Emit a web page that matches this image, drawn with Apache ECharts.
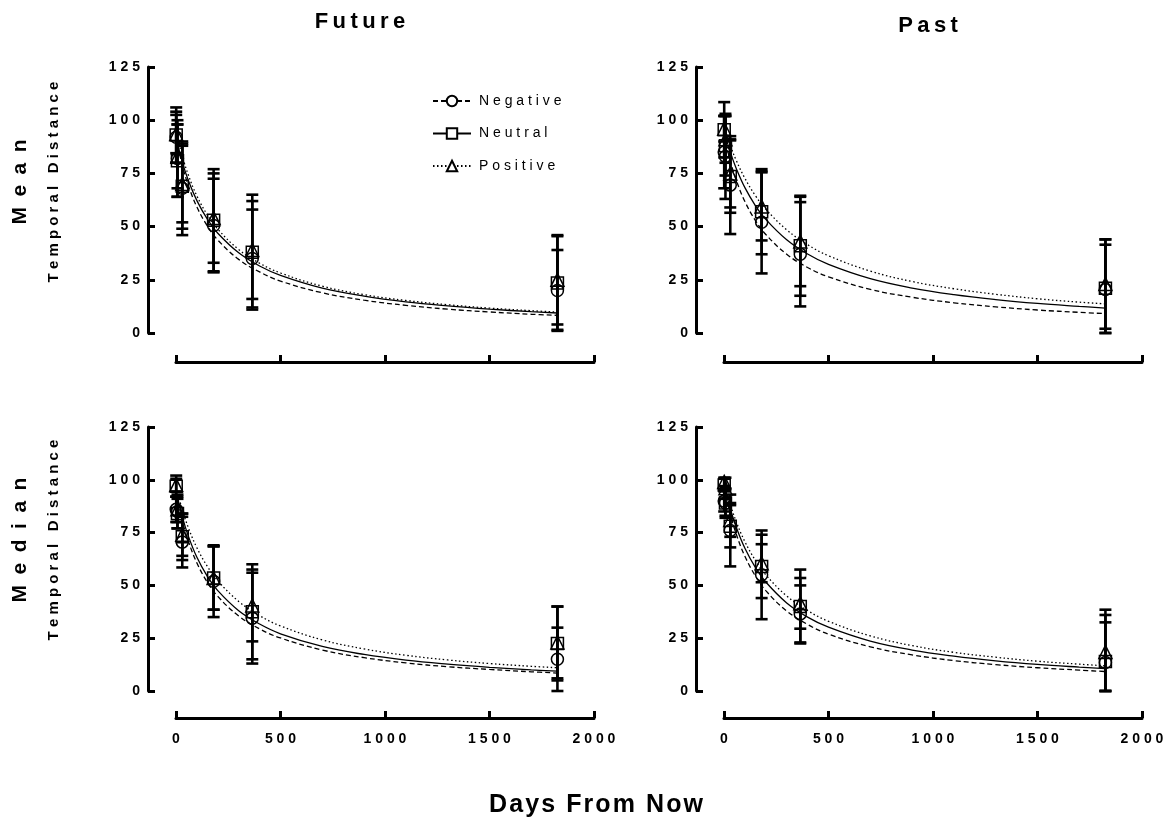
<!DOCTYPE html>
<html><head><meta charset="utf-8">
<script src="https://cdn.jsdelivr.net/npm/echarts@6/dist/echarts.min.js"></script>
<style>html,body{margin:0;padding:0;background:#fff}#c{width:1170px;height:824px}</style>
</head><body><div id="c"></div>
<script>
// ---------- data ----------
const days = [1, 7, 30, 180, 365, 1825];
const curveDays = [1, 30, 60, 100, 150, 200, 300, 400, 500, 700, 900, 1100, 1300, 1500, 1700, 1825];
const groups = ['Negative', 'Neutral', 'Positive'];
const colTitles = ['Future', 'Past'];
const rowTitles = ['Mean', 'Median'];
const yLabel = 'Temporal Distance';
const xLabel = 'Days From Now';
const xTicks = [0, 500, 1000, 1500, 2000];
const yTicks = [0, 25, 50, 75, 100, 125];

// Future / Mean
const futureMeanNeg = [92, 82, 68, 50.5, 35, 20];
const futureMeanNegSD = [12, 18, 22, 22, 23, 19];
const futureMeanNeu = [93, 81, 69, 53, 38, 23.5];
const futureMeanNeuSD = [13, 17, 20, 24, 27, 22];
const futureMeanPos = [93.5, 83, 70, 54, 39, 25];
const futureMeanPosSD = [9, 15, 18, 21, 23, 21];
const futureMeanNegFit = [91.5, 78.9, 69.1, 59.2, 50.3, 43.7, 34.6, 28.7, 24.4, 18.9, 15.4, 13.0, 11.2, 9.9, 8.8, 8.3];
const futureMeanNeuFit = [91.6, 80.4, 71.4, 62.2, 53.5, 46.9, 37.7, 31.5, 27.1, 21.1, 17.3, 14.6, 12.7, 11.2, 10.0, 9.4];
const futureMeanPosFit = [94.5, 83.2, 74.0, 64.4, 55.5, 48.8, 39.2, 32.8, 28.2, 22.0, 18.0, 15.3, 13.3, 11.7, 10.5, 9.8];

// Past / Mean
const pastMeanNeg = [85, 83, 69.5, 52, 37, 20.5];
const pastMeanNegSD = [17, 20, 23, 24, 24.5, 21];
const pastMeanNeu = [95.5, 88, 73.5, 57, 41, 21];
const pastMeanNeuSD = [13, 14, 17, 20, 23.5, 23];
const pastMeanPos = [96, 91, 75, 59.5, 43, 23];
const pastMeanPosSD = [6, 11, 16, 16, 21, 21];
const pastMeanNegFit = [92.5, 80.8, 71.4, 61.8, 52.9, 46.3, 37.0, 30.8, 26.4, 20.5, 16.8, 14.2, 12.3, 10.8, 9.7, 9.1];
const pastMeanNeuFit = [94.6, 85.0, 77.0, 68.3, 59.9, 53.4, 43.8, 37.1, 32.2, 25.5, 21.1, 18.0, 15.7, 13.9, 12.5, 11.7];
const pastMeanPosFit = [96.7, 88.2, 80.8, 72.7, 64.6, 58.2, 48.5, 41.5, 36.3, 29.1, 24.2, 20.8, 18.2, 16.1, 14.5, 13.7];

// Future / Median
const futureMedNeg = [86, 85, 70.5, 52, 34.5, 15];
const futureMedNegSD = [6, 8, 12, 17, 21.5, 15];
const futureMedNeu = [97, 84, 73, 53.5, 37.5, 22.5];
const futureMedNeuSD = [5, 7, 11, 15, 22.5, 17.5];
const futureMedPos = [97.5, 86, 74, 53.5, 40.5, 23];
const futureMedPosSD = [3, 6, 10, 15, 17, 17];
const futureMedNegFit = [93.5, 80.7, 70.7, 60.6, 51.5, 44.8, 35.5, 29.4, 25.1, 19.4, 15.8, 13.3, 11.5, 10.2, 9.1, 8.5];
const futureMedNeuFit = [94.5, 82.6, 73.1, 63.3, 54.3, 47.5, 38.0, 31.7, 27.1, 21.1, 17.3, 14.6, 12.7, 11.2, 10.0, 9.4];
const futureMedPosFit = [96.6, 85.9, 77.1, 67.8, 59.0, 52.2, 42.4, 35.7, 30.8, 24.2, 19.9, 16.9, 14.7, 13.0, 11.7, 11.0];

// Past / Median
const pastMedNeg = [90, 89, 76, 55, 36.5, 13.5];
const pastMedNegSD = [5, 6, 17, 21, 13.5, 19];
const pastMedNeu = [97.5, 89, 78, 59, 40, 14];
const pastMedNeuSD = [3, 7, 10, 15, 17.5, 22];
const pastMedPos = [99, 96, 81, 60.5, 41.5, 18.5];
const pastMedPosSD = [2, 5, 8, 9, 12, 20];
const pastMedNegFit = [96.5, 83.9, 73.9, 63.8, 54.5, 47.5, 37.9, 31.5, 26.9, 20.9, 17.1, 14.4, 12.5, 11.0, 9.9, 9.2];
const pastMedNeuFit = [97.6, 86.3, 77.2, 67.6, 58.5, 51.6, 41.7, 35.0, 30.2, 23.6, 19.4, 16.5, 14.3, 12.6, 11.3, 10.6];
const pastMedPosFit = [98.6, 88.4, 79.8, 70.7, 61.9, 55.0, 45.0, 38.1, 33.0, 26.1, 21.5, 18.3, 16.0, 14.1, 12.7, 11.9];

// ---------- layout / style ----------
const FONT = '"Liberation Sans", Arial, sans-serif';
const spaced = (s, sp) => String(s).split('').join(sp === undefined ? ' ' : sp);

const panels = [
  { left: 176, top: 67, height: 266, xOff: 29, labels: false,
    sets: [[futureMeanNeg, futureMeanNegSD, futureMeanNegFit], [futureMeanNeu, futureMeanNeuSD, futureMeanNeuFit], [futureMeanPos, futureMeanPosSD, futureMeanPosFit]] },
  { left: 724, top: 67, height: 266, xOff: 29, labels: false,
    sets: [[pastMeanNeg, pastMeanNegSD, pastMeanNegFit], [pastMeanNeu, pastMeanNeuSD, pastMeanNeuFit], [pastMeanPos, pastMeanPosSD, pastMeanPosFit]] },
  { left: 176, top: 427, height: 264, xOff: 27, labels: true,
    sets: [[futureMedNeg, futureMedNegSD, futureMedNegFit], [futureMedNeu, futureMedNeuSD, futureMedNeuFit], [futureMedPos, futureMedPosSD, futureMedPosFit]] },
  { left: 724, top: 427, height: 264, xOff: 27, labels: true,
    sets: [[pastMedNeg, pastMedNegSD, pastMedNegFit], [pastMedNeu, pastMedNeuSD, pastMedNeuFit], [pastMedPos, pastMedPosSD, pastMedPosFit]] }
];
const symbols = ['circle', 'rect', 'triangle'];
const lineTypes = [[5, 3], 'solid', [1.5, 2.5]];

function renderErr(params, api) {
  const x = api.value(0), lo = api.value(1), hi = api.value(2);
  const p1 = api.coord([x, lo]), p2 = api.coord([x, hi]);
  const w = 6;
  const st = { stroke: '#000', lineWidth: 2.6 };
  return { type: 'group', children: [
    { type: 'line', shape: { x1: p1[0], y1: p1[1], x2: p2[0], y2: p2[1] }, style: st },
    { type: 'line', shape: { x1: p1[0] - w, y1: p1[1], x2: p1[0] + w, y2: p1[1] }, style: st },
    { type: 'line', shape: { x1: p2[0] - w, y1: p2[1], x2: p2[0] + w, y2: p2[1] }, style: st }
  ] };
}

const grid = [], xAxis = [], yAxis = [], series = [];
panels.forEach((p, gi) => {
  grid.push({ left: p.left, top: p.top, width: 418, height: p.height });
  xAxis.push({
    type: 'value', gridIndex: gi, min: xTicks[0], max: xTicks[xTicks.length - 1], interval: 500,
    offset: p.xOff,
    axisLine: { show: true, onZero: false, lineStyle: { color: '#000', width: 3 } },
    axisTick: { show: true, inside: true, length: 7, lineStyle: { color: '#000', width: 3 } },
    axisLabel: { show: p.labels, margin: 14, color: '#000', fontFamily: FONT, fontWeight: 'bold', fontSize: 14,
      formatter: v => spaced(v) },
    splitLine: { show: false }
  });
  yAxis.push({
    type: 'value', gridIndex: gi, min: yTicks[0], max: yTicks[yTicks.length - 1], interval: 25,
    offset: 28,
    axisLine: { show: true, onZero: false, lineStyle: { color: '#000', width: 3 } },
    axisTick: { show: true, inside: true, length: 7, lineStyle: { color: '#000', width: 3 } },
    axisLabel: { margin: 8, color: '#000', fontFamily: FONT, fontWeight: 'bold', fontSize: 14,
      formatter: v => spaced(v) },
    splitLine: { show: false }
  });
  p.sets.forEach((s, k) => {
    const [m, sd] = s;
    series.push({
      type: 'custom', name: groups[k] + ' err', xAxisIndex: gi, yAxisIndex: gi,
      renderItem: renderErr, clip: false, z: 2,
      encode: { x: 0, y: [1, 2] },
      data: days.map((d, i) => [d, Math.max(0, m[i] - sd[i]), m[i] + sd[i]])
    });
  });
  p.sets.forEach((s, k) => {
    const [m] = s;
    series.push({
      type: 'scatter', name: groups[k] + ' pts', xAxisIndex: gi, yAxisIndex: gi,
      symbol: symbols[k], symbolSize: k === 2 ? 13 : 12, z: 3,
      itemStyle: { color: 'rgba(255,255,255,0)', borderColor: '#000', borderWidth: 1.5, opacity: 1 },
      data: days.map((d, i) => [d, m[i]])
    });
  });
  p.sets.forEach((s, k) => {
    const fit = s[2];
    series.push({
      type: 'line', name: groups[k], xAxisIndex: gi, yAxisIndex: gi,
      smooth: 0.4, showSymbol: false, symbol: symbols[k], symbolSize: 12, z: 4,
      itemStyle: { color: '#fff', borderColor: '#000', borderWidth: 1.5 },
      lineStyle: { color: '#000', width: 1.3, type: lineTypes[k] },
      data: curveDays.map((d, i) => [d, fit[i]])
    });
  });
});

const txt = (x, y, text, size, rot, weight) => ({
  type: 'text', x: x, y: y, rotation: rot || 0,
  style: { text: text, font: (weight || 'bold') + ' ' + size + 'px ' + FONT, fill: '#000',
    textAlign: 'center', textVerticalAlign: 'middle' }
});

const option = {
  animation: false,
  backgroundColor: '#fff',
  grid, xAxis, yAxis, series,
  legend: {
    data: groups, orient: 'vertical', left: 427, top: 89, itemWidth: 38, itemHeight: 13, itemGap: 18.5,
    selectedMode: false,
    textStyle: { color: '#000', fontFamily: FONT, fontSize: 14, padding: [0, 0, 0, 3] },
    formatter: n => spaced(n)
  },
  graphic: [
    txt(360, 22, spaced(colTitles[0], '\u2009'), 22),
    txt(928, 26, spaced(colTitles[1], '\u2009'), 22),
    txt(20, 182, spaced(rowTitles[0], '\u2002'), 21, Math.PI / 2),
    txt(54, 182, spaced(yLabel, ' '), 15, Math.PI / 2),
    txt(20, 540, spaced(rowTitles[1], '\u2002'), 21, Math.PI / 2),
    txt(54, 540, spaced(yLabel, ' '), 15, Math.PI / 2),
    txt(596, 805, spaced(xLabel, '\u200A'), 25)
  ]
};

echarts.init(document.getElementById('c')).setOption(option);
</script>
</body></html>
